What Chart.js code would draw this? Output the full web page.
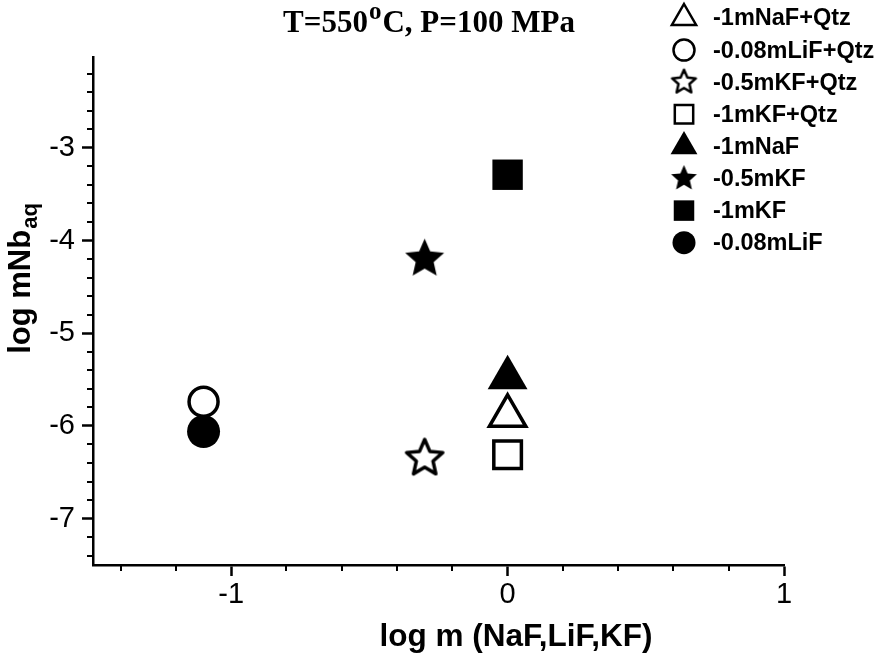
<!DOCTYPE html>
<html>
<head>
<meta charset="utf-8">
<script src="https://cdn.jsdelivr.net/npm/chart.js@4.4.1/dist/chart.umd.min.js"></script>
<style>
  html, body { margin: 0; padding: 0; background: #ffffff; }
  #wrap { width: 886px; height: 657px; position: relative; }
</style>
</head>
<body>
<div id="wrap"><canvas id="c" width="886" height="657"></canvas></div>
<script>
// ---- data ----
const seriesLabels = ['-1mNaF+Qtz', '-0.08mLiF+Qtz', '-0.5mKF+Qtz', '-1mKF+Qtz', '-1mNaF', '-0.5mKF', '-1mKF', '-0.08mLiF'];
const logM =        [0,      -1.1,   -0.3,   0,      0,      -0.3,   0,     -1.1];
const logNb =       [-5.89,  -5.74,  -6.35,  -6.31,  -5.48,  -4.20,  -3.29, -6.06];
const markerKinds = ['triangle', 'circle', 'star', 'rect', 'triangle', 'star', 'rect', 'circle'];
const markerFilled = [false, false, false, false, true, true, true, true];
const xTickValues = [-1, 0, 1];
const yTickValues = [-7, -6, -5, -4, -3];
const titleParts = ['T=550', 'o', 'C, P=100 MPa'];
const xTitle = 'log m (NaF,LiF,KF)';
const yTitleParts = ['log mNb', 'aq'];

// ---- star images ----
function makeStar(R, filled, lw) {
  const pad = Math.ceil(lw) + 2;
  const size = Math.ceil(2 * R + 2 * pad);
  const cv = document.createElement('canvas');
  cv.width = size; cv.height = size;
  const g = cv.getContext('2d');
  const cx = size / 2, cy = size / 2, r = R * 0.46;
  g.beginPath();
  for (let i = 0; i < 10; i++) {
    const rad = (i % 2 === 0) ? R : r;
    const a = -Math.PI / 2 + i * Math.PI / 5;
    const px = cx + rad * Math.cos(a), py = cy + rad * Math.sin(a);
    if (i === 0) g.moveTo(px, py); else g.lineTo(px, py);
  }
  g.closePath();
  g.lineJoin = 'round';
  if (filled) { g.fillStyle = '#000'; g.fill(); }
  else { g.fillStyle = '#fff'; g.fill(); g.lineWidth = lw; g.strokeStyle = '#000'; g.stroke(); }
  return cv;
}
const starFilledBig = makeStar(20.5, true, 0);
const starOpenBig = makeStar(19, false, 3.5);
const starFilledSmall = makeStar(13.5, true, 0);
const starOpenSmall = makeStar(12.5, false, 2.5);

function plotStyle(i) {
  const k = markerKinds[i], f = markerFilled[i];
  if (k === 'star') return { pointStyle: f ? starFilledBig : starOpenBig, radius: 20 };
  if (k === 'triangle') return { pointStyle: 'triangle', radius: f ? 23 : 21 };
  if (k === 'rect') return { pointStyle: 'rect', radius: f ? 21.5 : 19.5 };
  return { pointStyle: 'circle', radius: f ? 16.5 : 14.5 };
}
function legendStyle(i) {
  const k = markerKinds[i], f = markerFilled[i];
  if (k === 'star') return { pointStyle: f ? starFilledSmall : starOpenSmall, radius: 12 };
  if (k === 'triangle') return { pointStyle: 'triangle', radius: f ? 15.5 : 14 };
  if (k === 'rect') return { pointStyle: 'rect', radius: f ? 14.5 : 13 };
  return { pointStyle: 'circle', radius: f ? 11.5 : 10.5 };
}

const datasets = seriesLabels.map((lab, i) => {
  const s = plotStyle(i);
  return {
    label: lab,
    data: [{ x: logM[i], y: logNb[i] }],
    pointStyle: s.pointStyle,
    pointRadius: s.radius,
    pointHoverRadius: s.radius,
    pointBorderWidth: markerFilled[i] ? 0 : 3.5,
    pointBorderColor: '#000',
    pointBackgroundColor: markerFilled[i] ? '#000' : '#fff',
    showLine: false
  };
});

const isMajor = (v) => Math.abs(v - Math.round(v)) < 1e-6;

const CA = { left: 93, right: 784, top: 57, bottom: 565 };

const decorPlugin = {
  id: 'decor',
  afterDraw(chart) {
    const ctx = chart.ctx;
    const xs = chart.scales.x, ys = chart.scales.y;
    ctx.save();
    // minor ticks
    ctx.strokeStyle = '#000'; ctx.lineWidth = 2;
    xs.ticks.forEach(t => {
      if (isMajor(t.value)) return;
      const px = Math.round(xs.getPixelForValue(t.value)) ;
      ctx.beginPath(); ctx.moveTo(px, xs.top); ctx.lineTo(px, xs.top + 6); ctx.stroke();
    });
    ys.ticks.forEach(t => {
      if (isMajor(t.value)) return;
      const py = Math.round(ys.getPixelForValue(t.value));
      ctx.beginPath(); ctx.moveTo(ys.right, py); ctx.lineTo(ys.right - 6, py); ctx.stroke();
    });
    // main title with superscript
    ctx.fillStyle = '#000';
    ctx.textBaseline = 'alphabetic';
    const fBig = 'bold 31px "Liberation Serif", "Times New Roman", serif';
    const fSup = 'bold 25px "Liberation Serif", "Times New Roman", serif';
    ctx.font = fBig; const w0 = ctx.measureText(titleParts[0]).width;
    const w2 = ctx.measureText(titleParts[2]).width;
    ctx.font = fSup; const w1 = ctx.measureText(titleParts[1]).width;
    let tx = 429 - (w0 + w1 + 2 + w2) / 2;
    const tb = 32;
    ctx.font = fBig; ctx.textAlign = 'left'; ctx.fillText(titleParts[0], tx, tb); tx += w0;
    ctx.font = fSup; ctx.fillText(titleParts[1], tx + 1, tb - 13); tx += w1 + 2;
    ctx.font = fBig; ctx.fillText(titleParts[2], tx, tb);
    // x title
    ctx.font = 'bold 31.5px "Liberation Sans", Arial, sans-serif';
    ctx.textAlign = 'center';
    ctx.fillText(xTitle, 516, 646);
    // y title (rotated) with subscript
    ctx.save();
    ctx.translate(30, 279);
    ctx.rotate(-Math.PI / 2);
    const fy = 'bold 31px "Liberation Sans", Arial, sans-serif';
    const fys = 'bold 22px "Liberation Sans", Arial, sans-serif';
    ctx.font = fy; const a0 = ctx.measureText(yTitleParts[0]).width;
    ctx.font = fys; const a1 = ctx.measureText(yTitleParts[1]).width;
    let ax = -(a0 + a1) / 2;
    ctx.textAlign = 'left';
    ctx.font = fy; ctx.fillText(yTitleParts[0], ax, 0); ax += a0;
    ctx.font = fys; ctx.fillText(yTitleParts[1], ax + 1, 7);
    ctx.restore();
    // legend
    const lx = 684, lt = 713, ly0 = 18, ldy = 32.1;
    ctx.font = 'bold 23.5px "Liberation Sans", Arial, sans-serif';
    ctx.textAlign = 'left'; ctx.textBaseline = 'middle';
    seriesLabels.forEach((lab, i) => {
      const s = legendStyle(i);
      const y = ly0 + i * ldy;
      ctx.fillStyle = markerFilled[i] ? '#000' : '#fff';
      ctx.strokeStyle = '#000';
      ctx.lineWidth = markerFilled[i] ? 0 : 2.5;
      Chart.helpers.drawPoint(ctx, { pointStyle: s.pointStyle, radius: s.radius, rotation: 0, borderWidth: markerFilled[i] ? 0 : 2.5 }, lx, y);
      ctx.fillStyle = '#000';
      ctx.fillText(lab, lt, y + 1);
    });
    ctx.restore();
  }
};

new Chart(document.getElementById('c'), {
  type: 'scatter',
  data: { datasets },
  options: {
    responsive: false,
    animation: false,
    devicePixelRatio: 1,
    layout: { padding: { left: 0, right: 886 - CA.right, top: CA.top, bottom: 0 } },
    plugins: { legend: { display: false }, title: { display: false }, tooltip: { enabled: false } },
    scales: {
      x: {
        type: 'linear', min: -1.5, max: 1,
        afterFit(s) { s.height = 657 - CA.bottom; },
        border: { display: true, color: '#000', width: 2.5 },
        grid: {
          display: true, drawOnChartArea: false, drawTicks: true, tickLength: 11, tickWidth: 2.5,
          tickColor: (c) => (c.tick && isMajor(c.tick.value)) ? '#000' : 'rgba(0,0,0,0)'
        },
        ticks: {
          stepSize: 0.2, includeBounds: false, autoSkip: false, maxRotation: 0, padding: 2,
          color: '#000', font: { family: '"Liberation Sans", Arial, sans-serif', size: 29 },
          callback: (v) => {
            const r = Math.round(v);
            return (isMajor(v) && xTickValues.includes(r)) ? String(r) : '';
          }
        }
      },
      y: {
        type: 'linear', min: -7.5, max: -2.02,
        afterFit(s) { s.width = CA.left; },
        border: { display: true, color: '#000', width: 2.5 },
        grid: {
          display: true, drawOnChartArea: false, drawTicks: true, tickLength: 11, tickWidth: 2.5,
          tickColor: (c) => (c.tick && isMajor(c.tick.value)) ? '#000' : 'rgba(0,0,0,0)'
        },
        ticks: {
          stepSize: 0.2, includeBounds: false, autoSkip: false, padding: 7,
          color: '#000', font: { family: '"Liberation Sans", Arial, sans-serif', size: 29 },
          callback: (v) => {
            const r = Math.round(v);
            return (isMajor(v) && yTickValues.includes(r)) ? String(r) : '';
          }
        }
      }
    }
  },
  plugins: [decorPlugin]
});
</script>
</body>
</html>
